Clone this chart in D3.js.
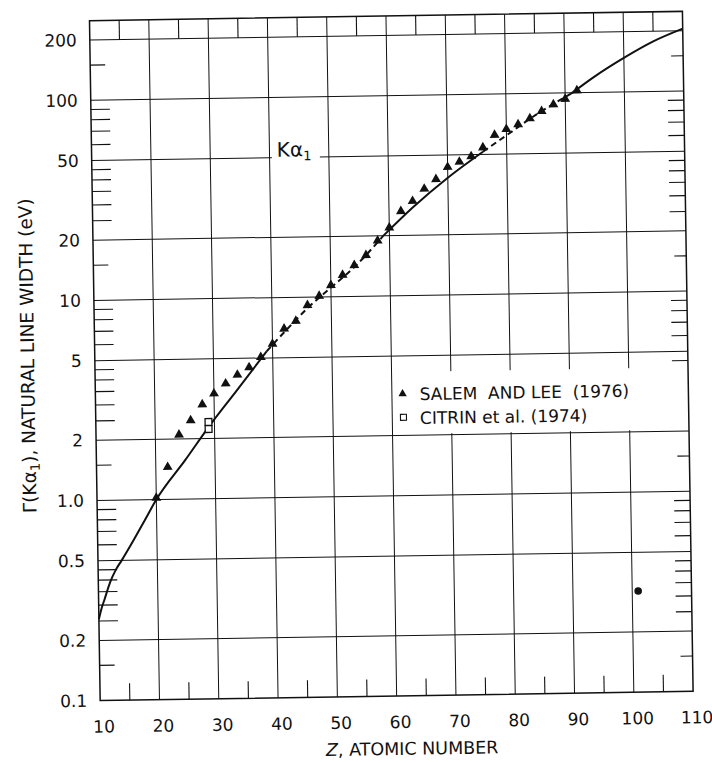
<!DOCTYPE html>
<html>
<head>
<meta charset="utf-8">
<title>K alpha 1 natural line width vs Z</title>
<script src="https://cdn.jsdelivr.net/npm/d3@7"></script>
<style>
  html, body { margin: 0; padding: 0; background: #fff; }
  svg { display: block; font-family: 'DejaVu Sans', sans-serif; }
</style>
</head>
<body>
<div id="chart"></div>
<script>
// Salem and Lee (1976), filled triangles
const salemZ = [20, 22, 24, 26, 28, 30, 32, 34, 36, 38, 40, 42, 44, 46, 48, 50, 52, 54, 56,
                58, 60, 62, 64, 66, 68, 70, 72, 74, 76, 78, 80, 82, 84, 86, 88, 90, 92];
const salemW = [1.02, 1.45, 2.10, 2.47, 2.96, 3.35, 3.75, 4.14, 4.50, 5.05, 5.87, 6.97, 7.61, 9.1,
                10.1, 11.4, 12.8, 14.3, 16.0, 18.9, 21.9, 26.4, 29.6, 34.0, 37.9, 43.5, 46.1, 49.0,
                54.1, 62.4, 66.6, 70.2, 75.0, 81.4, 87.7, 93.2, 102.5];

// Citrin et al. (1974), open squares (both for Cu)
const citrinZ = [29, 29];
const citrinW = [2.42, 2.23];

// theory curve
const curveZ = [10, 10.5, 11, 12, 13, 14, 16, 18, 20, 25, 29, 34, 39, 42, 46, 50, 54, 59, 64, 70,
                76, 80, 85, 91, 95, 100, 105, 110];
const curveW = [0.255, 0.29, 0.32, 0.39, 0.45, 0.50, 0.625, 0.79, 1.0, 1.57, 2.28, 3.5, 5.4, 6.7,
                8.8, 11.1, 14.0, 20.0, 27.5, 38.5, 51.6, 62, 78, 99, 120, 148, 178, 205];
// parts of the curve that run dashed under the triangles
const dashedRanges = [[39, 59], [76, 91]];

// the lone black dot near Z = 100
const dotZ = [101];
const dotW = [0.32];

// ticks
const xTicks = [10, 20, 30, 40, 50, 60, 70, 80, 90, 100, 110];
const xMinorTicks = [15, 25, 35, 45, 55, 65, 75, 85, 95, 105];
const yTicks = [0.1, 0.2, 0.5, 1, 2, 5, 10, 20, 50, 100, 200];
const yTickLabels = ['0.1', '0.2', '0.5', '1.0', '2', '5', '10', '20', '50', '100', '200'];
const yMinorTicks = [150, 90, 80, 70, 60, 45, 40, 35, 30, 25, 15, 9, 8, 7, 6, 4.5, 4, 3.5, 3, 2.5,
                     1.5, 0.9, 0.8, 0.7, 0.6, 0.45, 0.4, 0.35, 0.3, 0.25, 0.15];
const shortMinor = [150, 15, 1.5, 0.15];

const W = 712, H = 763;
const plot = { left: 94.8, right: 687.8, top: 16, bottom: 696 };
const tilt = -0.9;          // the scanned page sits slightly askew
const pivot = [391, 356];
const ink = '#111';

const x = d3.scaleLinear().domain([10, 110]).range([plot.left, plot.right]);
const y = d3.scaleLog().domain([0.1, 250]).range([plot.bottom, plot.top]);

const svg = d3.select('#chart').append('svg')
    .attr('width', W)
    .attr('height', H);

svg.append('rect').attr('width', W).attr('height', H).attr('fill', '#fff');

const g = svg.append('g')
    .attr('transform', `rotate(${tilt},${pivot[0]},${pivot[1]})`);

// grid lines
const vGrid = g.append('g').attr('stroke', ink).attr('stroke-width', 1);
vGrid.selectAll('line')
    .data(xTicks.slice(1, -1))
    .join('line')
    .attr('x1', d => x(d)).attr('x2', d => x(d))
    .attr('y1', plot.top).attr('y2', plot.bottom);

const hGrid = g.append('g').attr('stroke', ink).attr('stroke-width', 1);
hGrid.selectAll('line')
    .data(yTicks.slice(1))
    .join('line')
    .attr('x1', plot.left).attr('x2', plot.right)
    .attr('y1', d => y(d)).attr('y2', d => y(d));

// little ticks in the top strip (above 200)
g.append('g').attr('stroke', ink).attr('stroke-width', 1.1)
    .selectAll('line')
    .data(xMinorTicks)
    .join('line')
    .attr('x1', d => x(d)).attr('x2', d => x(d))
    .attr('y1', plot.top).attr('y2', y(200));

// bottom minor ticks
g.append('g').attr('stroke', ink).attr('stroke-width', 1.1)
    .selectAll('line')
    .data(xMinorTicks)
    .join('line')
    .attr('x1', d => x(d)).attr('x2', d => x(d))
    .attr('y1', plot.bottom).attr('y2', plot.bottom - 17);

// left and right minor ticks
g.append('g').attr('stroke', ink).attr('stroke-width', 1.1)
    .selectAll('line')
    .data(yMinorTicks)
    .join('line')
    .attr('x1', plot.left)
    .attr('x2', d => plot.left + (shortMinor.includes(d) ? 15 : 19))
    .attr('y1', d => y(d)).attr('y2', d => y(d));

g.append('g').attr('stroke', ink).attr('stroke-width', 1.1)
    .selectAll('line')
    .data(yMinorTicks)
    .join('line')
    .attr('x1', plot.right)
    .attr('x2', d => plot.right - (shortMinor.includes(d) ? 12 : 16))
    .attr('y1', d => y(d)).attr('y2', d => y(d));

// K alpha 1 label, it blanks out the 50 line behind it
g.append('rect')
    .attr('x', 275).attr('y', 139).attr('width', 48).attr('height', 22)
    .attr('fill', '#fff');
const kLabel = g.append('text')
    .attr('x', 280).attr('y', 155)
    .attr('font-size', 20)
    .attr('fill', ink);
kLabel.append('tspan').text('Kα');
kLabel.append('tspan').attr('dy', 4).attr('font-size', 13).text('1');

// legend box hides the grid under it
const legend = g.append('g');
legend.append('rect')
    .attr('x', 395).attr('y', 372)
    .attr('width', plot.right - 395).attr('height', 62)
    .attr('fill', '#fff');
legend.append('path')
    .attr('transform', 'translate(402,394)')
    .attr('d', d3.symbol(d3.symbolTriangle, 30))
    .attr('fill', ink);
legend.append('text')
    .attr('x', 419).attr('y', 400.5)
    .attr('font-size', 17)
    .attr('fill', ink)
    .style('white-space', 'pre')
    .text('SALEM  AND LEE  (1976)');
legend.append('rect')
    .attr('x', 399.5).attr('y', 414.5).attr('width', 6).attr('height', 6)
    .attr('fill', '#fff').attr('stroke', ink).attr('stroke-width', 1.1);
legend.append('text')
    .attr('x', 419).attr('y', 424.5)
    .attr('font-size', 17)
    .attr('fill', ink)
    .text('CITRIN et al. (1974)');

// theory curve, split into solid and dashed stretches
const curvePts = curveZ.map((z, i) => ({ z: z, w: curveW[i] }));
const pieces = [];
let start = curveZ[0];
dashedRanges.forEach(r => {
    pieces.push({ from: start, to: r[0], dashed: false });
    pieces.push({ from: r[0], to: r[1], dashed: true });
    start = r[1];
});
pieces.push({ from: start, to: curveZ[curveZ.length - 1], dashed: false });

const line = d3.line()
    .x(d => x(d.z))
    .y(d => y(d.w))
    .curve(d3.curveMonotoneX);

g.append('g')
    .selectAll('path')
    .data(pieces)
    .join('path')
    .attr('d', p => line(curvePts.filter(d => d.z >= p.from && d.z <= p.to)))
    .attr('fill', 'none')
    .attr('stroke', ink)
    .attr('stroke-width', 2)
    .attr('stroke-dasharray', p => p.dashed ? '6,4' : null);

// Salem and Lee triangles
g.append('g')
    .selectAll('path')
    .data(salemZ.map((z, i) => ({ z: z, w: salemW[i] })))
    .join('path')
    .attr('transform', d => `translate(${x(d.z)},${y(d.w)})`)
    .attr('d', d3.symbol(d3.symbolTriangle, 42))
    .attr('fill', ink);

// Citrin squares
g.append('g')
    .selectAll('path')
    .data(citrinZ.map((z, i) => ({ z: z, w: citrinW[i] })))
    .join('path')
    .attr('transform', d => `translate(${x(d.z)},${y(d.w)})`)
    .attr('d', d3.symbol(d3.symbolSquare, 46))
    .attr('fill', '#fff')
    .attr('stroke', ink)
    .attr('stroke-width', 1.3);

// dot
g.append('g')
    .selectAll('circle')
    .data(dotZ.map((z, i) => ({ z: z, w: dotW[i] })))
    .join('circle')
    .attr('cx', d => x(d.z)).attr('cy', d => y(d.w))
    .attr('r', 3.8)
    .attr('fill', ink);

// frame
g.append('rect')
    .attr('x', plot.left).attr('y', plot.top)
    .attr('width', plot.right - plot.left).attr('height', plot.bottom - plot.top)
    .attr('fill', 'none')
    .attr('stroke', ink)
    .attr('stroke-width', 1.5);

// tick labels
const yAxis = d3.axisLeft(y)
    .tickValues(yTicks)
    .tickFormat(d => yTickLabels[yTicks.indexOf(d)])
    .tickSize(0)
    .tickPadding(13);
g.append('g')
    .attr('transform', `translate(${plot.left},0)`)
    .call(yAxis)
    .call(a => a.select('.domain').remove())
    .call(a => a.selectAll('text')
        .attr('font-size', 17)
        .attr('font-family', "'DejaVu Sans', sans-serif")
        .attr('fill', ink));

const xAxis = d3.axisBottom(x)
    .tickValues(xTicks)
    .tickFormat(d => String(d))
    .tickSize(0)
    .tickPadding(20);
g.append('g')
    .attr('transform', `translate(3,${plot.bottom})`)
    .call(xAxis)
    .call(a => a.select('.domain').remove())
    .call(a => a.selectAll('text')
        .attr('font-size', 17)
        .attr('font-family', "'DejaVu Sans', sans-serif")
        .attr('fill', ink));

// axis titles
const xTitle = g.append('text')
    .attr('x', 406).attr('y', 755)
    .attr('text-anchor', 'middle')
    .attr('font-size', 17.5)
    .attr('fill', ink);
xTitle.append('tspan').attr('font-style', 'italic').text('Z');
xTitle.append('tspan').text(', ATOMIC NUMBER');

const yTitle = g.append('text')
    .attr('transform', 'translate(34,350) rotate(-90)')
    .attr('text-anchor', 'middle')
    .attr('font-size', 18.5)
    .attr('fill', ink);
yTitle.append('tspan').text('Γ(Kα');
yTitle.append('tspan').attr('dy', 4).attr('font-size', 13).text('1');
yTitle.append('tspan').attr('dy', -4).text('), NATURAL LINE WIDTH (eV)');
</script>
</body>
</html>
